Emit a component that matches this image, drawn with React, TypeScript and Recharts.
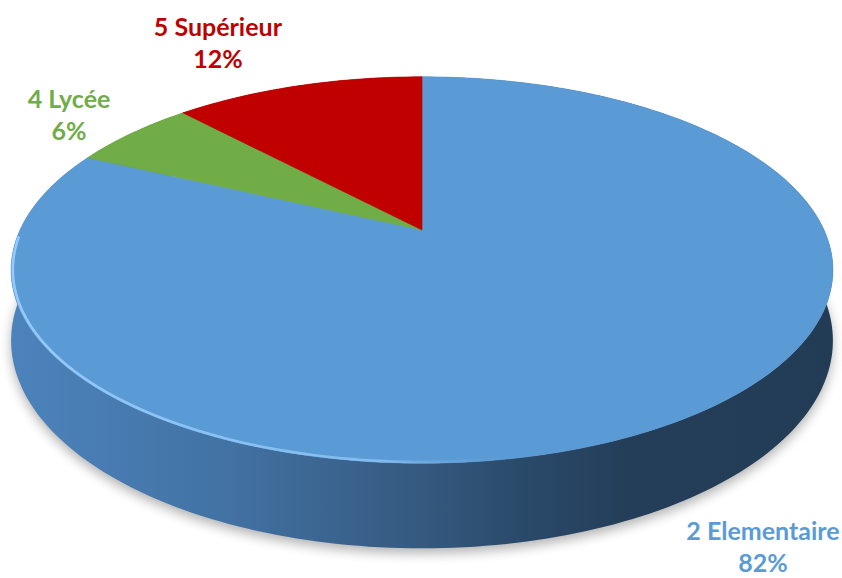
import { PieChart, Pie } from 'recharts';

const categories = ['2 Elementaire', '4 Lycée', '5 Supérieur'];
const values = [82, 6, 12];
const percentLabels = ['82%', '6%', '12%'];

const topColors = ['#5b9bd5', '#70ad47', '#c00000'];
const sideColors = ['url(#sideBlue)', '#4c7a30', '#860000'];

const data = categories.map((name, i) => ({ name, value: values[i], pct: percentLabels[i] }));

// perspective look of the Excel 3D pie
const PERSP = 0.207;
const TILT = 0.46;
const DEPTH = 0.168;

// where each label sits relative to the rim point at the slice's mid angle
const LABEL_NUDGE = [
    [80, 121],
    [-63, -25],
    [-80, -50],
];

const proj = (cx: number, cy: number, r: number, deg: number, s = 1) => {
    const rad = (deg * Math.PI) / 180;
    const u = Math.cos(rad) * s;
    const v = -Math.sin(rad) * s;
    const w = 1 - PERSP * v;
    return [cx + (r * u) / w, cy + (r * TILT * v) / w, w];
};

const arc = (cx: number, cy: number, r: number, a0: number, a1: number, s = 1) => {
    const n = Math.max(2, Math.ceil(Math.abs(a1 - a0) / 1.2));
    const pts: number[][] = [];
    for (let i = 0; i <= n; i++) pts.push(proj(cx, cy, r, a0 + ((a1 - a0) * i) / n, s));
    return pts;
};

const toPath = (pts: number[][]) => pts.map((p, i) => `${i ? 'L' : 'M'}${p[0].toFixed(2)},${p[1].toFixed(2)}`).join('');

const SideShape = (props: any) => {
    const { cx, cy, outerRadius: r, startAngle, endAngle, index } = props;
    const top = arc(cx, cy, r, startAngle, endAngle);
    const bottom = top.map((p) => [p[0], p[1] + (r * DEPTH) / p[2]]).reverse();
    const d = toPath([...top, ...bottom]) + 'Z';
    if (index !== 0) return <path d={d} fill={sideColors[index]} />;
    const ring = arc(cx, cy, r, 0, 360).map((p) => [p[0], p[1] + (r * DEPTH) / p[2]]);
    return (
        <g>
            <defs>
                <linearGradient id="sideBlue" gradientUnits="userSpaceOnUse" x1={12} y1={0} x2={833} y2={0}>
                    <stop offset="0" stopColor="#4c83bc" />
                    <stop offset="0.25" stopColor="#4373a5" />
                    <stop offset="0.5" stopColor="#35597f" />
                    <stop offset="0.62" stopColor="#2a4a6a" />
                    <stop offset="0.75" stopColor="#243e59" />
                    <stop offset="1" stopColor="#233c56" />
                </linearGradient>
                <linearGradient id="rimGrad" gradientUnits="userSpaceOnUse" x1={12} y1={0} x2={833} y2={0}>
                    <stop offset="0" stopColor="#9ccfff" stopOpacity={0.9} />
                    <stop offset="0.45" stopColor="#8cc4f5" stopOpacity={0.8} />
                    <stop offset="0.62" stopColor="#5b9bd5" stopOpacity={0} />
                    <stop offset="1" stopColor="#5b9bd5" stopOpacity={0} />
                </linearGradient>
                <filter id="softShadow" x="-10%" y="-10%" width="120%" height="130%">
                    <feGaussianBlur stdDeviation="6" />
                </filter>
                <filter id="rimBlur">
                    <feGaussianBlur stdDeviation="0.7" />
                </filter>
            </defs>
            <path d={toPath(ring) + 'Z'} fill="#000" opacity={0.3} filter="url(#softShadow)" transform="translate(0,5)" />
            <path d={d} fill={sideColors[0]} />
        </g>
    );
};

const TopShape = (props: any) => {
    const { cx, cy, outerRadius: r, startAngle, endAngle, index } = props;
    const d = `M${cx},${cy}` + toPath(arc(cx, cy, r, startAngle, endAngle)).replace(/^M/, 'L') + 'Z';
    return (
        <g>
            <path d={d} fill={topColors[index]} stroke={topColors[index]} strokeWidth={0.6} />
            {index === 0 && (
                <path
                    d={toPath(arc(cx, cy, r, -178, -30, 0.996))}
                    fill="none"
                    stroke="url(#rimGrad)"
                    strokeWidth={2.6}
                    filter="url(#rimBlur)"
                />
            )}
        </g>
    );
};

const renderLabel = (props: any) => {
    const { cx, cy, outerRadius: r, midAngle, index } = props;
    const p = proj(cx, cy, r, midAngle);
    const x = p[0] + LABEL_NUDGE[index][0];
    const y = p[1] + LABEL_NUDGE[index][1];
    return (
        <text
            x={x}
            y={y}
            textAnchor="middle"
            fill={topColors[index]}
            fontFamily="Lato, 'Open Sans', sans-serif"
            fontWeight="bold"
            fontSize={25}
        >
            <tspan x={x} y={y}>{categories[index]}</tspan>
            <tspan x={x} y={y + 32}>{percentLabels[index]}</tspan>
        </text>
    );
};

export default function App() {
    return (
        <div style={{ position: 'absolute', left: 0, top: 0, width: 842, height: 578, background: '#fff' }}>
            <PieChart width={842} height={578} margin={{ top: 0, right: 0, bottom: 0, left: 0 }}>
                <Pie
                    data={data}
                    dataKey="value"
                    cx={422}
                    cy={230}
                    outerRadius={402}
                    startAngle={90}
                    endAngle={-270}
                    stroke="none"
                    shape={SideShape}
                    activeShape={SideShape}
                    inactiveShape={SideShape}
                    isAnimationActive={false}
                />
                <Pie
                    data={data}
                    dataKey="value"
                    cx={422}
                    cy={230}
                    outerRadius={402}
                    startAngle={90}
                    endAngle={-270}
                    stroke="none"
                    shape={TopShape}
                    activeShape={TopShape}
                    inactiveShape={TopShape}
                    label={renderLabel}
                    labelLine={false}
                    isAnimationActive={false}
                />
            </PieChart>
        </div>
    );
}
